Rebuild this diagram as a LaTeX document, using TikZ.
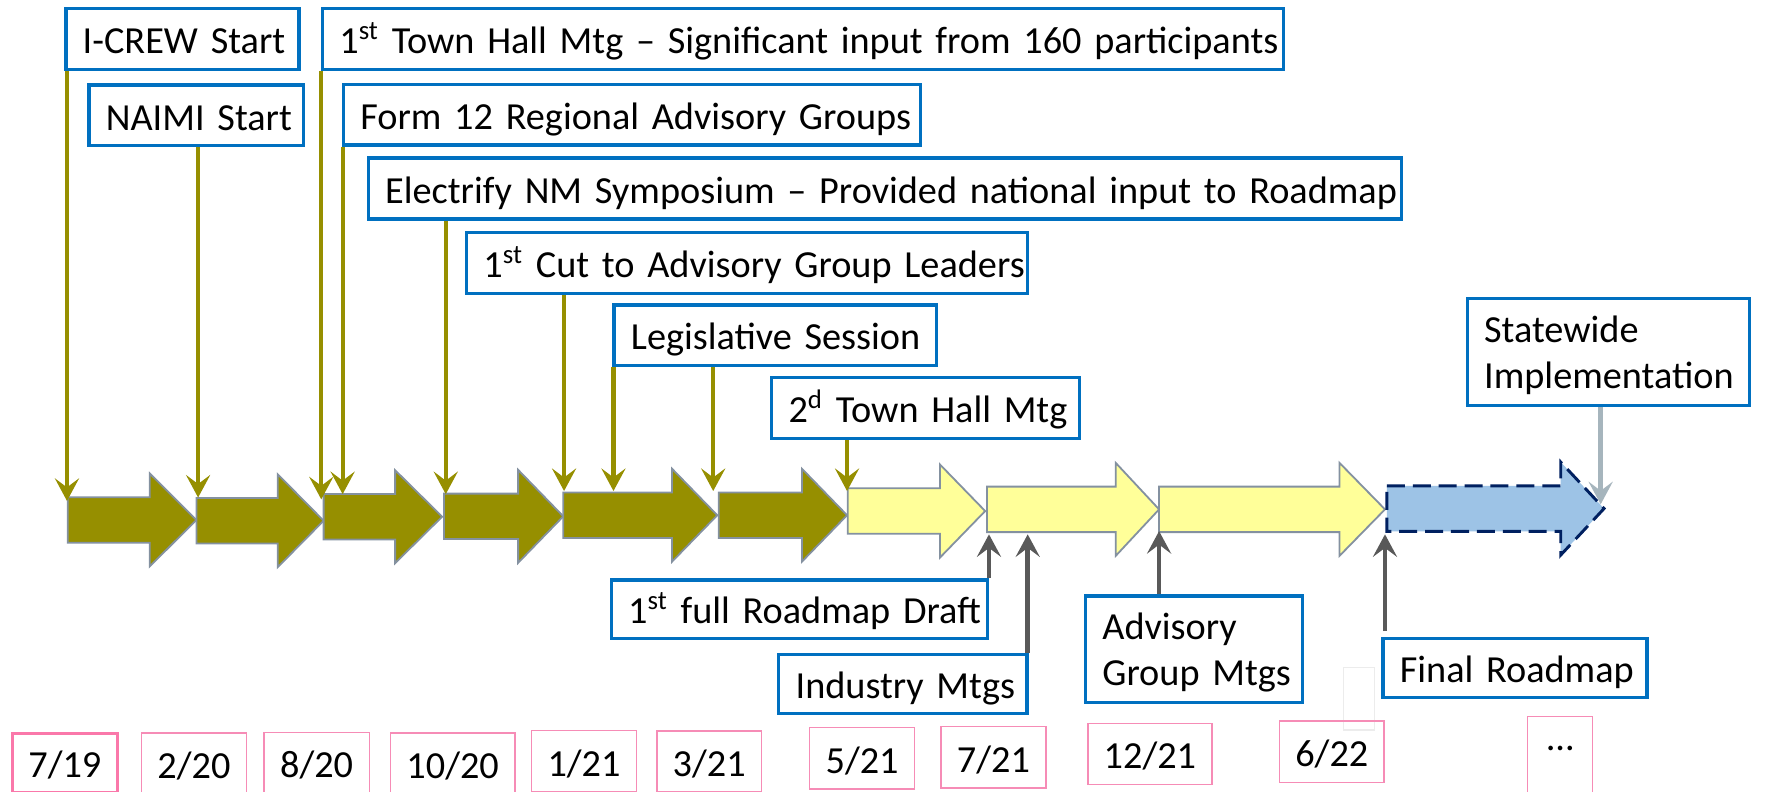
\documentclass[tikz,border=0pt]{standalone}
\usepackage{fontspec}
\setmainfont{Carlito}[WordSpace=0.78]
\usetikzlibrary{arrows.meta}
\definecolor{boxblue}{RGB}{0,112,192}
\definecolor{mygreen}{RGB}{150,143,0}
\definecolor{arrline}{RGB}{132,145,160}
\definecolor{myyellow}{RGB}{255,255,153}
\definecolor{myblue}{RGB}{157,195,230}
\definecolor{mynavy}{RGB}{0,32,96}
\definecolor{mygrey}{RGB}{89,89,89}
\definecolor{mylight}{RGB}{166,181,189}
\definecolor{mypink}{RGB}{246,140,182}
\definecolor{mypinkdark}{RGB}{250,120,170}
\newcommand\myfs{\fontsize{17pt}{20.5pt}\selectfont}
\newcommand\myarrow[5]{\draw[#5] (#1,#2-20.2) -- (#3,#2-20.2) -- (#3,#2-41.3) -- (#4,#2) -- (#3,#2+41.3) -- (#3,#2+20.2) -- (#1,#2+20.2) -- cycle;}
\tikzset{
 tbox/.style={draw=boxblue, line width=1.5pt, fill=white, anchor=north west, inner xsep=7.5pt, inner ysep=0pt, align=left, font=\myfs, text height=13pt, text depth=0pt, minimum height=27pt, text width=#1},
 tboxtwo/.style={draw=boxblue, line width=1.5pt, fill=white, anchor=north west, inner xsep=7.5pt, inner ysep=0pt, align=left, font=\myfs, text height=12pt, text depth=20.5pt, text width=#1},
 dbox/.style={draw=mypink, line width=0.6pt, anchor=north west, inner sep=0pt, font=\myfs, text height=13.25pt, text depth=0pt, minimum height=27.15pt, minimum width=#1},
 tipshape/.style={-{Stealth[length=10pt,width=10.7pt,inset=4pt]}},
 gline/.style={draw=mygreen, line width=1.8pt, tipshape},
 kline/.style={draw=mygrey, line width=2pt, tipshape},
 lline/.style={draw=mylight, line width=2pt, tipshape},
 garr/.style={fill=mygreen, draw=arrline, line width=0.8pt},
 yarr/.style={fill=myyellow, draw=arrline, line width=0.8pt},
 barr/.style={fill=myblue, draw=mynavy, line width=1.3pt, dash pattern=on 8pt off 3.5pt},
}
\begin{document}
\begin{tikzpicture}[x=0.5pt,y=-0.5pt]
\useasboundingbox (0,0) rectangle (1568,703);
\clip (0,0) rectangle (1568,703);
\fill[white] (0,0) rectangle (1568,703);

% big timeline arrows
\myarrow{60.2}{461.9}{133}{174.5}{garr}
\myarrow{174.5}{462.6}{246.7}{287.5}{garr}
\myarrow{287.5}{459}{351}{392.8}{garr}
\myarrow{394.5}{458.7}{460.3}{500.4}{garr}
\myarrow{500.4}{457.7}{597}{637.2}{garr}
\myarrow{638.5}{457.7}{712.4}{752.5}{garr}
\myarrow{753.2}{454}{835.1}{875.2}{yarr}
\myarrow{876.9}{452.5}{991.2}{1029.7}{yarr}
\myarrow{1029.7}{452.5}{1190}{1230.4}{yarr}
\myarrow{1232.1}{451.8}{1386.5}{1425}{barr}

% faint box
\draw[gray!15, line width=0.5pt] (1193.3,593.2) rectangle (1221.1,648.5);

% top boxes
\node[tbox=88.5pt] (icrew) at (57,6) {\mbox{I-CREW Start}};
\node[tbox=80.25pt] (naimi) at (77.5,74) {\mbox{NAIMI Start}};
\node[tbox=412pt] (town1) at (285,6) {\mbox{1\textsuperscript{st} Town Hall Mtg – Significant input from 160 participants}};
\node[tbox=241.2pt] (form12) at (303.6,73.4) {\mbox{Form 12 Regional Advisory Groups}};
\node[tbox=444pt] (electrify) at (325.7,139) {\mbox{Electrify NM Symposium – Provided national input to Roadmap}};
\node[tbox=234.25pt] (cut) at (413,205) {\mbox{1\textsuperscript{st} Cut to Advisory Group Leaders}};
\node[tbox=128.35pt] (legis) at (544,269.4) {\mbox{Legislative Session}};
\node[tbox=121.75pt] (town2) at (684,334) {\mbox{2\textsuperscript{d} Town Hall Mtg}};
\node[tboxtwo=110.25pt, minimum height=47.75pt] (statewide) at (1302,263.5) {\mbox{Statewide}\\\mbox{Implementation}};

% bottom boxes
\node[tbox=152pt, minimum height=26pt] (draft) at (541.6,513.8) {\mbox{1\textsuperscript{st} full Roadmap Draft}};
\node[tbox=95.35pt, minimum height=26.2pt] (industry) at (690.3,579.8) {\mbox{Industry Mtgs}};
\node[tboxtwo=81.4pt, minimum height=47.35pt] (advisory) at (962.8,528) {\mbox{Advisory}\\\mbox{Group Mtgs}};
\node[tbox=102.2pt, minimum height=26.35pt] (final) at (1227.1,565.6) {\mbox{Final Roadmap}};

% date boxes
\node[dbox=46.35pt, draw=mypinkdark, line width=1.3pt, minimum height=26.45pt] (d719) at (10,650) {7/19};
\node[dbox=46.7pt] (d220) at (125,650.6) {2/20};
\node[dbox=46.7pt] (d820) at (234,650) {8/20};
\node[dbox=55.25pt] (d1020) at (346.3,650.6) {10/20};
\node[dbox=46.55pt] (d121) at (471.7,648.5) {1/21};
\node[dbox=46.4pt] (d321) at (583,648.8) {3/21};
\node[dbox=46.5pt] (d521) at (718.8,645.9) {5/21};
\node[dbox=46.55pt] (d721) at (835.4,645) {7/21};
\node[dbox=55.15pt] (d1221) at (965.8,642) {12/21};
\node[dbox=46.35pt] (d622) at (1136.2,640) {6/22};
\node[dbox=28.95pt, minimum height=37.5pt, text height=0pt, text depth=7.6pt] (dell) at (1356.5,636.1) {…};

% arrow tip coordinates
\coordinate (t1) at (59.5,445);
\coordinate (t2) at (176,442);
\coordinate (t3) at (285.4,443.6);
\coordinate (t4) at (304.4,439);
\coordinate (t5) at (396,439);
\coordinate (t6) at (501.1,436.2);
\coordinate (t7) at (545,436.2);
\coordinate (t8) at (633.6,436.2);
\coordinate (t9) at (752.5,436.2);
\coordinate (g1) at (878.6,474.7);
\coordinate (g2) at (913,474.7);
\coordinate (g3) at (1029.7,471.8);
\coordinate (g4) at (1230.4,474.7);
\coordinate (g5) at (1422,448);

% green connectors
\draw[gline] (icrew.south -| t1) -- (t1);
\draw[gline] (naimi.south -| t2) -- (t2);
\draw[gline] (town1.south -| t3) -- (t3);
\draw[gline] (form12.south -| t4) -- (t4);
\draw[gline] (electrify.south -| t5) -- (t5);
\draw[gline] (cut.south -| t6) -- (t6);
\draw[gline] (legis.south -| t7) -- (t7);
\draw[gline] (legis.south -| t8) -- (t8);
\draw[gline] (town2.south -| t9) -- (t9);

% grey connectors
\draw[kline] (draft.north -| g1) -- (g1);
\draw[kline] (industry.north -| g2) -- (g2);
\draw[kline] (advisory.north -| g3) -- (g3);
\draw[kline, shorten <=2.5pt] (final.north -| g4) -- (g4);
\draw[lline] (statewide.south -| g5) -- (g5);
\end{tikzpicture}
\end{document}
